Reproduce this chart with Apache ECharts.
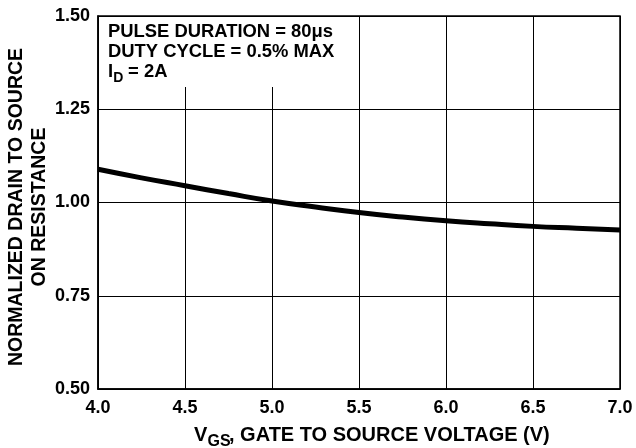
<!DOCTYPE html>
<html>
<head>
<meta charset="utf-8">
<script src="https://cdn.jsdelivr.net/npm/echarts@6/dist/echarts.min.js"></script>
<style>
html,body{margin:0;padding:0;background:#fff;}
#c{width:636px;height:448px;}
</style>
</head>
<body>
<div id="c"></div>
<script>
var vgs = [4.0, 4.25, 4.5, 4.75, 5.0, 5.25, 5.5, 5.75, 6.0, 6.25, 6.5, 6.75, 7.0];
var rdsNorm = [1.089, 1.066, 1.045, 1.024, 1.004, 0.988, 0.973, 0.961, 0.951, 0.943, 0.936, 0.931, 0.926];
var xTicks = [4.0, 4.5, 5.0, 5.5, 6.0, 6.5, 7.0];
var yTicks = [0.50, 0.75, 1.00, 1.25, 1.50];
var noteLines = ['PULSE DURATION = 80\u03BCs', 'DUTY CYCLE = 0.5% MAX'];
var xTitle = ['V', 'GS', ', GATE TO SOURCE VOLTAGE (V)'];
var yTitle = 'NORMALIZED DRAIN TO SOURCE\nON RESISTANCE';

var FONT = '"Liberation Sans", Arial, Helvetica, sans-serif';
var chart = echarts.init(document.getElementById('c'), null, {renderer: 'canvas'});
var data = vgs.map(function (v, i) { return [v, rdsNorm[i]]; });

function txt(x, y, s, size, extra) {
  var o = {type: 'text', x: x, y: y, z: 51,
    style: {text: s, fill: '#000', font: 'bold ' + size + 'px ' + FONT, verticalAlign: 'middle', align: 'left'}};
  if (extra) { for (var k in extra) { if (k === 'style') { for (var j in extra.style) o.style[j] = extra.style[j]; } else o[k] = extra[k]; } }
  return o;
}

chart.setOption({
  backgroundColor: '#ffffff',
  animation: false,
  grid: {left: 98, right: 16, top: 16, bottom: 59, show: true, borderColor: '#000', borderWidth: 1.5,
    backgroundColor: 'transparent', containLabel: false, outerBoundsMode: 'none'},
  xAxis: {
    type: 'value', min: xTicks[0], max: xTicks[xTicks.length - 1], interval: 0.5,
    axisLine: {show: true, lineStyle: {color: '#000', width: 1.5}},
    axisTick: {show: false},
    splitLine: {show: true, lineStyle: {color: '#000', width: 1}},
    axisLabel: {color: '#000', fontFamily: FONT, fontWeight: 'bold', fontSize: 18, margin: 10,
      formatter: function (v) { return v.toFixed(1); }}
  },
  yAxis: {
    type: 'value', min: yTicks[0], max: yTicks[yTicks.length - 1], interval: 0.25,
    axisLine: {show: true, lineStyle: {color: '#000', width: 1.5}},
    axisTick: {show: false},
    splitLine: {show: true, lineStyle: {color: '#000', width: 1}},
    axisLabel: {color: '#000', fontFamily: FONT, fontWeight: 'bold', fontSize: 18, margin: 8,
      formatter: function (v) { return v.toFixed(2); }}
  },
  graphic: [
    {type: 'rect', shape: {x: 99, y: 17, width: 246, height: 70}, style: {fill: '#fff'}, z: 50},
    txt(108, 31.5, noteLines[0], 18.4),
    txt(108, 51.5, noteLines[1], 18.4),
    txt(108, 71.5, 'I', 18.4),
    txt(113.2, 78, 'D', 14),
    txt(123, 71.5, ' = 2A', 18.4),
    txt(194, 435.5, xTitle[0], 20),
    txt(207.5, 441.5, xTitle[1], 16),
    txt(229, 435.5, xTitle[2], 20),
    txt(0, 0, yTitle, 19.5, {x: 28, y: 207, rotation: Math.PI / 2,
      style: {align: 'center', verticalAlign: 'middle', lineHeight: 22.5}})
  ],
  series: [{
    type: 'line', data: data, smooth: true, showSymbol: false, symbol: 'none',
    lineStyle: {color: '#000', width: 5}, z: 10
  }]
});
</script>
</body>
</html>
